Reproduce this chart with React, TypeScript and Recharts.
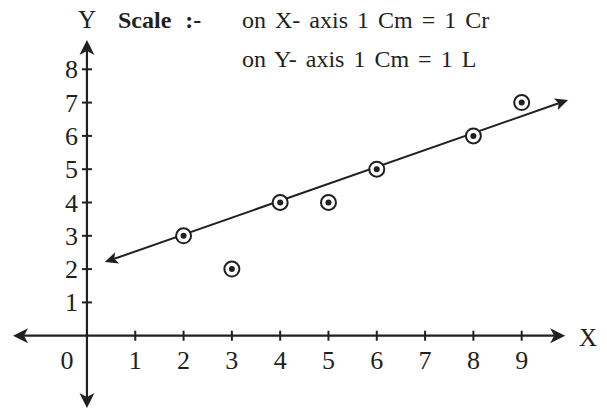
import React from "react";
import {
  ReferenceDot,
  ReferenceLine,
  Scatter,
  ScatterChart,
  XAxis,
  YAxis,
} from "recharts";

const W = 607;
const H = 411;
const FONT = '"Liberation Serif", "Times New Roman", serif';
const INK = "#231f20";

// data
const X_TICKS = [1, 2, 3, 4, 5, 6, 7, 8, 9];
const Y_TICKS = [1, 2, 3, 4, 5, 6, 7, 8];
const POINTS = [
  { x: 2, y: 3 },
  { x: 3, y: 2 },
  { x: 4, y: 4 },
  { x: 5, y: 4 },
  { x: 6, y: 5 },
  { x: 8, y: 6 },
  { x: 9, y: 7 },
];
const TREND = [
  { x: 0.37, y: 2.21 },
  { x: 9.96, y: 7.08 },
];
const X_AXIS_SPAN = [-1.53, 9.9];
const Y_AXIS_SPAN = [-2.17, 8.88];
const SCALE_LINES = ["on X- axis 1 Cm = 1 Cr", "on Y- axis 1 Cm = 1 L"];

function arrowHead(fx: number, fy: number, tx: number, ty: number, len: number, half: number, notch: number) {
  const d = Math.hypot(tx - fx, ty - fy) || 1;
  const ux = (tx - fx) / d;
  const uy = (ty - fy) / d;
  const bx = tx - ux * len;
  const by = ty - uy * len;
  const nx = tx - ux * (len - notch);
  const ny = ty - uy * (len - notch);
  return `${tx},${ty} ${bx - uy * half},${by + ux * half} ${nx},${ny} ${bx + uy * half},${by - ux * half}`;
}

function DoubleArrow(len: number, half: number, notch: number, width: number) {
  return (p: any) => {
    const { x1, y1, x2, y2 } = p;
    const d = Math.hypot(x2 - x1, y2 - y1) || 1;
    const ux = (x2 - x1) / d;
    const uy = (y2 - y1) / d;
    const k = len - notch;
    return (
      <g>
        <line
          x1={x1 + ux * k}
          y1={y1 + uy * k}
          x2={x2 - ux * k}
          y2={y2 - uy * k}
          stroke={INK}
          strokeWidth={width}
        />
        <polygon points={arrowHead(x2, y2, x1, y1, len, half, notch)} fill={INK} />
        <polygon points={arrowHead(x1, y1, x2, y2, len, half, notch)} fill={INK} />
      </g>
    );
  };
}

const Marker = (p: any) => (
  <g>
    <circle cx={p.cx} cy={p.cy} r={7.5} fill="#fff" stroke={INK} strokeWidth={2} />
    <circle cx={p.cx} cy={p.cy} r={3} fill={INK} />
  </g>
);

const XTick = (label: string, dx: number) => (p: any) => (
  <g>
    {label !== "0" && (
      <line x1={p.cx} y1={p.cy - 5} x2={p.cx} y2={p.cy + 5} stroke={INK} strokeWidth={2} />
    )}
    <text x={p.cx + dx} y={p.cy + 33} textAnchor="middle" fontFamily={FONT} fontSize={26} fill={INK}>
      {label}
    </text>
  </g>
);

const YTick = (label: string) => (p: any) => (
  <g>
    <line x1={p.cx - 5} y1={p.cy} x2={p.cx + 5} y2={p.cy} stroke={INK} strokeWidth={2} />
    <text x={p.cx - 9} y={p.cy + 9} textAnchor="end" fontFamily={FONT} fontSize={26} fill={INK}>
      {label}
    </text>
  </g>
);

export default function App() {
  return (
    <div style={{ position: "absolute", left: 0, top: 0, width: W, height: H, background: "#fff" }}>
      <ScatterChart width={W} height={H} margin={{ top: 0, right: 0, bottom: 0, left: 0 }}>
        <XAxis type="number" dataKey="x" domain={[-1.8, 10.766]} allowDataOverflow hide />
        <YAxis type="number" dataKey="y" domain={[-2.261, 10.081]} allowDataOverflow hide />
        <ReferenceLine
          segment={[
            { x: X_AXIS_SPAN[0], y: 0 },
            { x: X_AXIS_SPAN[1], y: 0 },
          ]}
          shape={DoubleArrow(15, 7.5, 4, 2.2)}
          ifOverflow="visible"
        />
        <ReferenceLine
          segment={[
            { x: 0, y: Y_AXIS_SPAN[0] },
            { x: 0, y: Y_AXIS_SPAN[1] },
          ]}
          shape={DoubleArrow(15, 7.5, 4, 2.2)}
          ifOverflow="visible"
        />
        {X_TICKS.map((t) => (
          <ReferenceDot key={`x${t}`} x={t} y={0} shape={XTick(String(t), 0)} ifOverflow="visible" />
        ))}
        <ReferenceDot x={0} y={0} shape={XTick("0", -20)} ifOverflow="visible" />
        {Y_TICKS.map((t) => (
          <ReferenceDot key={`y${t}`} x={0} y={t} shape={YTick(String(t))} ifOverflow="visible" />
        ))}
        <ReferenceLine
          segment={TREND}
          shape={DoubleArrow(13, 6, 3, 2)}
          ifOverflow="visible"
        />
        <Scatter data={POINTS} shape={Marker} isAnimationActive={false} />
      </ScatterChart>
      <svg width={W} height={H} style={{ position: "absolute", left: 0, top: 0, pointerEvents: "none" }}>
        <text x={87} y={28} textAnchor="middle" fontFamily={FONT} fontSize={25} fill={INK}>
          Y
        </text>
        <text x={588} y={346} textAnchor="middle" fontFamily={FONT} fontSize={25} fill={INK}>
          X
        </text>
        <text x={118} y={28} fontFamily={FONT} fontSize={24} fontWeight="bold" fill={INK} style={{ wordSpacing: 8 }}>
          Scale :-
        </text>
        {SCALE_LINES.map((s, i) => (
          <text
            key={s}
            x={242}
            y={28 + i * 39}
            fontFamily={FONT}
            fontSize={24}
            fill={INK}
            style={{ wordSpacing: 3 }}
          >
            {s}
          </text>
        ))}
      </svg>
    </div>
  );
}
